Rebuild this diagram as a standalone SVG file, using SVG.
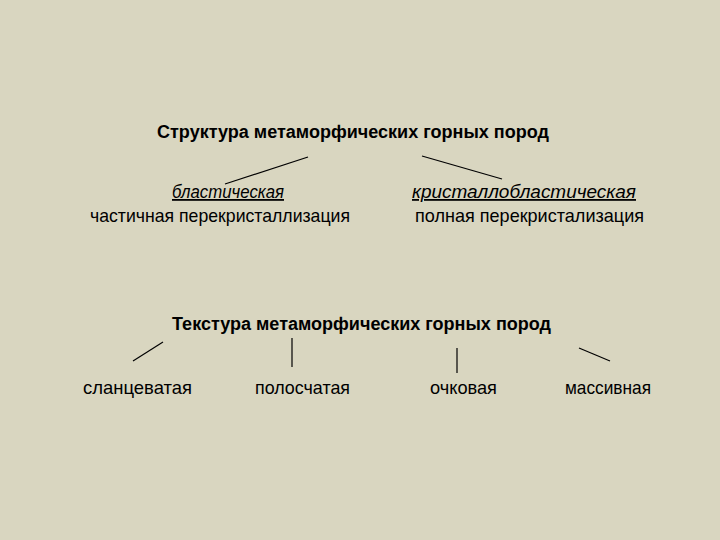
<svg xmlns="http://www.w3.org/2000/svg" width="720" height="540" viewBox="0 0 720 540">
<style>
text{font-family:"Liberation Sans",Arial,sans-serif;font-size:19px;fill:#000}
.b{font-weight:bold;font-size:18px}
.i{font-style:italic;font-size:18px;text-decoration:underline}
.c line{stroke:#000;stroke-width:1.2}
</style>
<rect width="720" height="540" fill="#d9d6c0"/>
<g id="n-structure"><text class="b" x="157" y="138" textLength="392" lengthAdjust="spacingAndGlyphs">Структура метаморфических горных пород</text></g>
<g id="n-blast"><text class="i" x="172" y="198" textLength="112" lengthAdjust="spacingAndGlyphs">бластическая</text>
<text x="90" y="222" textLength="260" lengthAdjust="spacingAndGlyphs">частичная перекристаллизация</text></g>
<g id="n-cryst"><text class="i" x="412" y="198" textLength="224" lengthAdjust="spacingAndGlyphs">кристаллобластическая</text>
<text x="415" y="222" textLength="229" lengthAdjust="spacingAndGlyphs">полная перекристализация</text></g>
<g id="n-texture"><text class="b" x="172" y="330" textLength="379" lengthAdjust="spacingAndGlyphs">Текстура метаморфических горных пород</text></g>
<g id="n-slanc"><text x="83" y="394" textLength="109" lengthAdjust="spacingAndGlyphs">сланцеватая</text></g>
<g id="n-polos"><text x="255" y="394" textLength="95" lengthAdjust="spacingAndGlyphs">полосчатая</text></g>
<g id="n-ochk"><text x="430" y="394" textLength="67" lengthAdjust="spacingAndGlyphs">очковая</text></g>
<g id="n-mass"><text x="565" y="394" textLength="86" lengthAdjust="spacingAndGlyphs">массивная</text></g>
<g class="c" id="connectors">
<line x1="308" y1="157" x2="225" y2="184"/>
<line x1="422" y1="156" x2="502" y2="179"/>
<line x1="163" y1="342" x2="133" y2="361"/>
<line x1="292" y1="338" x2="292" y2="367"/>
<line x1="457" y1="348" x2="457" y2="373"/>
<line x1="579" y1="348" x2="610" y2="361"/>
</g>
</svg>
